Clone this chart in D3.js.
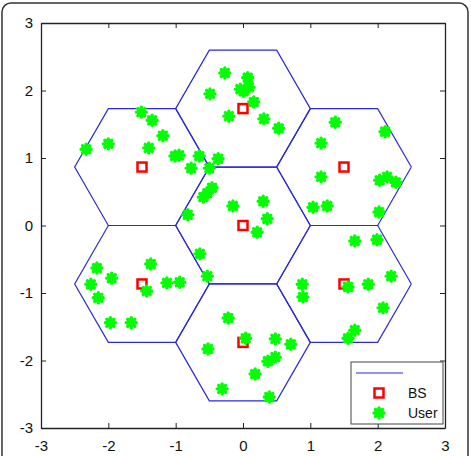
<!DOCTYPE html>
<html lang="en">
<head>
<meta charset="UTF-8">
<title>BS and users</title>
<style>
  body { margin: 0; background: #fff; }
  text { font-family: "Liberation Sans", Arial, sans-serif; }
</style>
</head>
<body>
<svg width="471" height="456"></svg>
<script src="https://d3js.org/d3.v7.min.js"></script>
<script>
// base stations (cell centres)
var bsX = [0, 0, 0, 1.5, 1.5, -1.5, -1.5];
var bsY = [0, 1.732, -1.732, 0.866, -0.866, 0.866, -0.866];

// users
var userX = [-2.33, -2.00, -1.51, -1.35, -1.19, -1.40, -1.01, -0.95, -0.77, -0.65, -0.37, -0.50,
             -0.27, 0.07, -0.49, -0.04, 0.09, 0.01, 0.16, -0.21, 0.31, 0.53,
             1.37, 2.11, 1.16, 1.16, 2.03, 2.14, 2.27, 1.04, 1.25, 2.02,
             -0.46, -0.59, -0.53, -0.82, -0.15, 0.30, 0.36, 0.21, -0.64, -0.53,
             -2.17, -1.37, -1.95, -2.26, -1.43, -1.13, -0.94, -2.15, -1.97, -1.66,
             -0.22, -0.52, 0.04, 0.48, 0.71, 0.48, 0.37, 0.18, -0.31, 0.39,
             0.88, 0.89, 1.66, 1.99, 2.20, 1.56, 1.86, 2.08, 1.66, 1.56];
var userY = [1.13, 1.21, 1.68, 1.56, 1.33, 1.15, 1.03, 1.04, 0.85, 1.03, 0.99, 0.85,
             2.26, 2.19, 1.95, 2.02, 2.05, 1.99, 1.83, 1.62, 1.58, 1.44,
             1.53, 1.39, 1.22, 0.72, 0.67, 0.72, 0.64, 0.27, 0.29, 0.20,
             0.56, 0.42, 0.48, 0.16, 0.29, 0.36, 0.10, -0.10, -0.42, -0.75,
             -0.63, -0.57, -0.78, -0.87, -0.97, -0.85, -0.84, -1.07, -1.44, -1.44,
             -1.37, -1.83, -1.67, -1.68, -1.76, -1.95, -2.01, -2.20, -2.42, -2.54,
             -0.87, -1.06, -0.23, -0.21, -0.75, -0.91, -0.87, -1.22, -1.55, -1.67];

var ticks = [-3, -2, -1, 0, 1, 2, 3];
var tickLabels = ["-3", "-2", "-1", "0", "1", "2", "3"];
var legendLabels = ["", "BS", "User"];
var cellRadius = 1;

var svg = d3.select("svg");

// outer frame
svg.append("rect")
    .attr("x", 2).attr("y", 3)
    .attr("width", 466).attr("height", 462)
    .attr("rx", 9)
    .attr("fill", "none")
    .attr("stroke", "#333")
    .attr("stroke-width", 1.5);

var x = d3.scaleLinear().domain([-3, 3]).range([41, 445]);
var y = d3.scaleLinear().domain([-3, 3]).range([428, 23]);

// hexagonal cells
var hexLine = d3.line()
    .x(function(d) { return x(d[0]); })
    .y(function(d) { return y(d[1]); });

svg.append("g").selectAll("path")
    .data(bsX.map(function(d, i) { return [d, bsY[i]]; }))
    .enter().append("path")
    .attr("d", function(c) {
        var pts = d3.range(7).map(function(k) {
            var a = k * Math.PI / 3;
            return [c[0] + cellRadius * Math.cos(a), c[1] + cellRadius * Math.sin(a)];
        });
        return hexLine(pts);
    })
    .attr("fill", "none")
    .attr("stroke", "#2a2ad6")
    .attr("stroke-width", 1.2);

// axes box
function label(d, i) { return tickLabels[i]; }

function addAxis(axis, tx, ty) {
    var g = svg.append("g")
        .attr("transform", "translate(" + tx + "," + ty + ")")
        .call(axis);
    g.select(".domain").attr("stroke", "#222").attr("stroke-width", 1.3);
    g.selectAll(".tick line").attr("stroke", "#222");
    g.selectAll("text").attr("font-size", 15).attr("fill", "#111")
        .attr("font-family", "'Liberation Sans', Arial, sans-serif");
    return g;
}

addAxis(d3.axisBottom(x).tickValues(ticks).tickFormat(label).tickSize(-5).tickSizeOuter(0).tickPadding(12), 0, 428);
addAxis(d3.axisLeft(y).tickValues(ticks).tickFormat(label).tickSize(-5).tickSizeOuter(0).tickPadding(8), 41, 0);
addAxis(d3.axisTop(x).tickValues(ticks).tickSize(-5).tickSizeOuter(0).tickFormat(""), 0, 23);
addAxis(d3.axisRight(y).tickValues(ticks).tickSize(-5).tickSizeOuter(0).tickFormat(""), 445, 0);

// base stations
function bsSquare(sel) {
    sel.attr("width", 9).attr("height", 9)
        .attr("fill", "#fff")
        .attr("stroke", "#f00")
        .attr("stroke-width", 2.5);
}
svg.append("g").selectAll("rect")
    .data(bsX)
    .enter().append("rect")
    .attr("x", function(d) { return x(d) - 4.5; })
    .attr("y", function(d, i) { return y(bsY[i]) - 4.5; })
    .call(bsSquare);

// users (MATLAB-style thick asterisk)
var star = "M0,-5L0,5M-5,0L5,0M-3.5,-3.5L3.5,3.5M-3.5,3.5L3.5,-3.5";
function userMark(sel) {
    sel.attr("d", star)
        .attr("stroke", "#0f0")
        .attr("stroke-width", 3.4)
        .attr("stroke-linecap", "round")
        .attr("fill", "none");
}
svg.append("g").selectAll("path")
    .data(userX)
    .enter().append("path")
    .attr("transform", function(d, i) { return "translate(" + x(d) + "," + y(userY[i]) + ")"; })
    .call(userMark);

// legend
var legend = svg.append("g").attr("transform", "translate(351,362)");
legend.append("rect")
    .attr("width", 92).attr("height", 62)
    .attr("fill", "#fff")
    .attr("stroke", "#444")
    .attr("stroke-width", 1);

var rowY = d3.scalePoint().domain(legendLabels).range([11, 51]);

legend.append("line")
    .attr("x1", 5).attr("x2", 52)
    .attr("y1", rowY("")).attr("y2", rowY(""))
    .attr("stroke", "#2a2ad6").attr("stroke-width", 1.2);
legend.append("rect")
    .attr("x", 28 - 4.5).attr("y", rowY("BS") - 4.5)
    .call(bsSquare);
legend.append("path")
    .attr("transform", "translate(28," + rowY("User") + ")")
    .call(userMark);

legend.selectAll("text.lab")
    .data(legendLabels.slice(1))
    .enter().append("text")
    .attr("class", "lab")
    .attr("x", 57)
    .attr("y", function(d) { return rowY(d); })
    .attr("dy", "0.35em")
    .attr("font-size", 14)
    .attr("fill", "#111")
    .text(function(d) { return d; });
</script>
</body>
</html>
